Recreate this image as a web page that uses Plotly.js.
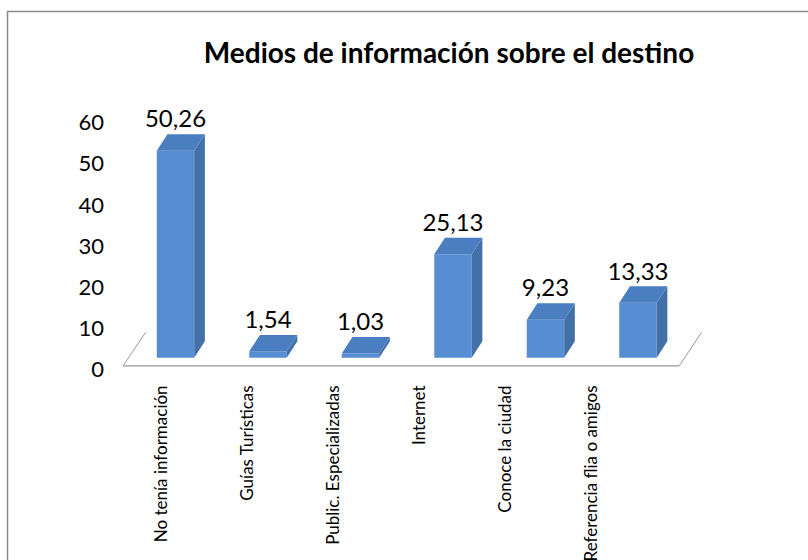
<!DOCTYPE html>
<html>
<head>
<meta charset="utf-8">
<script src="https://cdn.plot.ly/plotly-3.0.1.min.js"></script>
<style>html,body{margin:0;padding:0;background:#fff;}#chart{width:808px;height:560px;}</style>
</head>
<body>
<div id="chart"></div>
<script>
// ---- data ----
const categories = ["No tenía información", "Guías Turísticas", "Public. Especializadas", "Internet", "Conoce la ciudad", "Referencia flia o amigos"];
const values = [50.26, 1.54, 1.03, 25.13, 9.23, 13.33];
const valueLabels = ["50,26", "1,54", "1,03", "25,13", "9,23", "13,33"];
const yTicks = [0, 10, 20, 30, 40, 50, 60];

// ---- styling / geometry (pseudo-3D) ----
const FONT = "Lato, Carlito, Calibri, 'Open Sans', sans-serif";
const barW = 0.405;      // bar width in category units
const depthX = 0.115;    // depth offset in x units
const depthY = 4.0;      // depth offset in y units
const colFront = "#578dd2", colTop = "#4b7ec0", colSide = "#4470a8";

const idx = categories.map((c, i) => i);

// top faces & side faces built from the data
const topX = [], topY = [], sideX = [], sideY = [];
values.forEach((v, i) => {
  const l = i - barW / 2, r = i + barW / 2;
  topX.push(l, r, r + depthX, l + depthX, l, null);
  topY.push(v, v, v + depthY, v + depthY, v, null);
  sideX.push(r, r + depthX, r + depthX, r, r, null);
  sideY.push(0, depthY, v + depthY, v, 0, null);
});

const traces = [
  {type: "bar", x: idx, y: values, width: barW, marker: {color: colFront, line: {width: 0}},
   hoverinfo: "skip", xaxis: "x", yaxis: "y"},
  {type: "scatter", mode: "lines", x: sideX, y: sideY, fill: "toself", fillcolor: colSide,
   line: {width: 0, color: colSide}, hoverinfo: "skip", xaxis: "x", yaxis: "y"},
  {type: "scatter", mode: "lines", x: topX, y: topY, fill: "toself", fillcolor: colTop,
   line: {width: 0, color: colTop}, hoverinfo: "skip", xaxis: "x", yaxis: "y"},
  {type: "scatter", mode: "text", x: idx, y: values.map(v => v + depthY + 3.1), text: valueLabels,
   textposition: "middle center", textfont: {family: FONT, size: 24, color: "#000"},
   hoverinfo: "skip", xaxis: "x", yaxis: "y", cliponaxis: false},
  // invisible trace carrying the category tick labels
  {type: "scatter", mode: "markers", x: idx, y: values.map(() => 0), marker: {opacity: 0},
   hoverinfo: "skip", xaxis: "x2", yaxis: "y"}
];

const floorGrey = "#9a9a9a";
const layout = {
  width: 808, height: 560,
  margin: {l: 120, r: 100, t: 100, b: 190},
  paper_bgcolor: "#fff", plot_bgcolor: "rgba(0,0,0,0)",
  showlegend: false,
  title: {text: "<b>Medios de información sobre el destino</b>", font: {family: FONT, size: 28, color: "#000"},
          xref: "container", yref: "container", x: 449 / 808, y: 1 - 53 / 560, xanchor: "center", yanchor: "middle"},
  xaxis: {range: [-0.6, 5.757], showgrid: false, zeroline: false, showline: false, showticklabels: false, ticks: "", fixedrange: true},
  xaxis2: {overlaying: "x", anchor: "y", side: "bottom", range: [-0.488, 6.349], tickmode: "array",
           tickvals: idx, ticktext: categories, tickangle: -90, showgrid: false, zeroline: false, showline: false,
           ticks: "", ticklabelstandoff: 11, tickfont: {family: FONT, size: 17, color: "#000"}},
  yaxis: {range: [-2.985, 62.55], tickmode: "array", tickvals: yTicks, ticktext: yTicks.map(String),
          showgrid: false, zeroline: false, showline: false, ticks: "", ticklabelshift: 12, ticklabelstandoff: 15,
          tickfont: {family: FONT, size: 22, color: "#000"}},
  shapes: [
    // outer chart border
    {type: "rect", xref: "paper", yref: "paper", x0: (7.5 - 120) / 588, x1: (815 - 120) / 588,
     y0: (370 - 570) / 270, y1: (370 - 11.5) / 270, line: {color: "#8a8a8a", width: 1.5}, fillcolor: "rgba(0,0,0,0)", layer: "below"},
    // floor edges
    {type: "line", xref: "x", yref: "y", x0: -0.568, x1: 5.445, y0: -2.0, y1: -2.0, line: {color: floorGrey, width: 1.2}, layer: "below"},
    {type: "line", xref: "x", yref: "y", x0: -0.568, x1: -0.322, y0: -2.0, y1: 6.17, line: {color: floorGrey, width: 1}, layer: "below"},
    {type: "line", xref: "x", yref: "y", x0: 5.445, x1: 5.689, y0: -2.0, y1: 6.17, line: {color: floorGrey, width: 1}, layer: "below"}
  ]
};

Plotly.newPlot("chart", traces, layout, {staticPlot: true, displayModeBar: false});
</script>
</body>
</html>
